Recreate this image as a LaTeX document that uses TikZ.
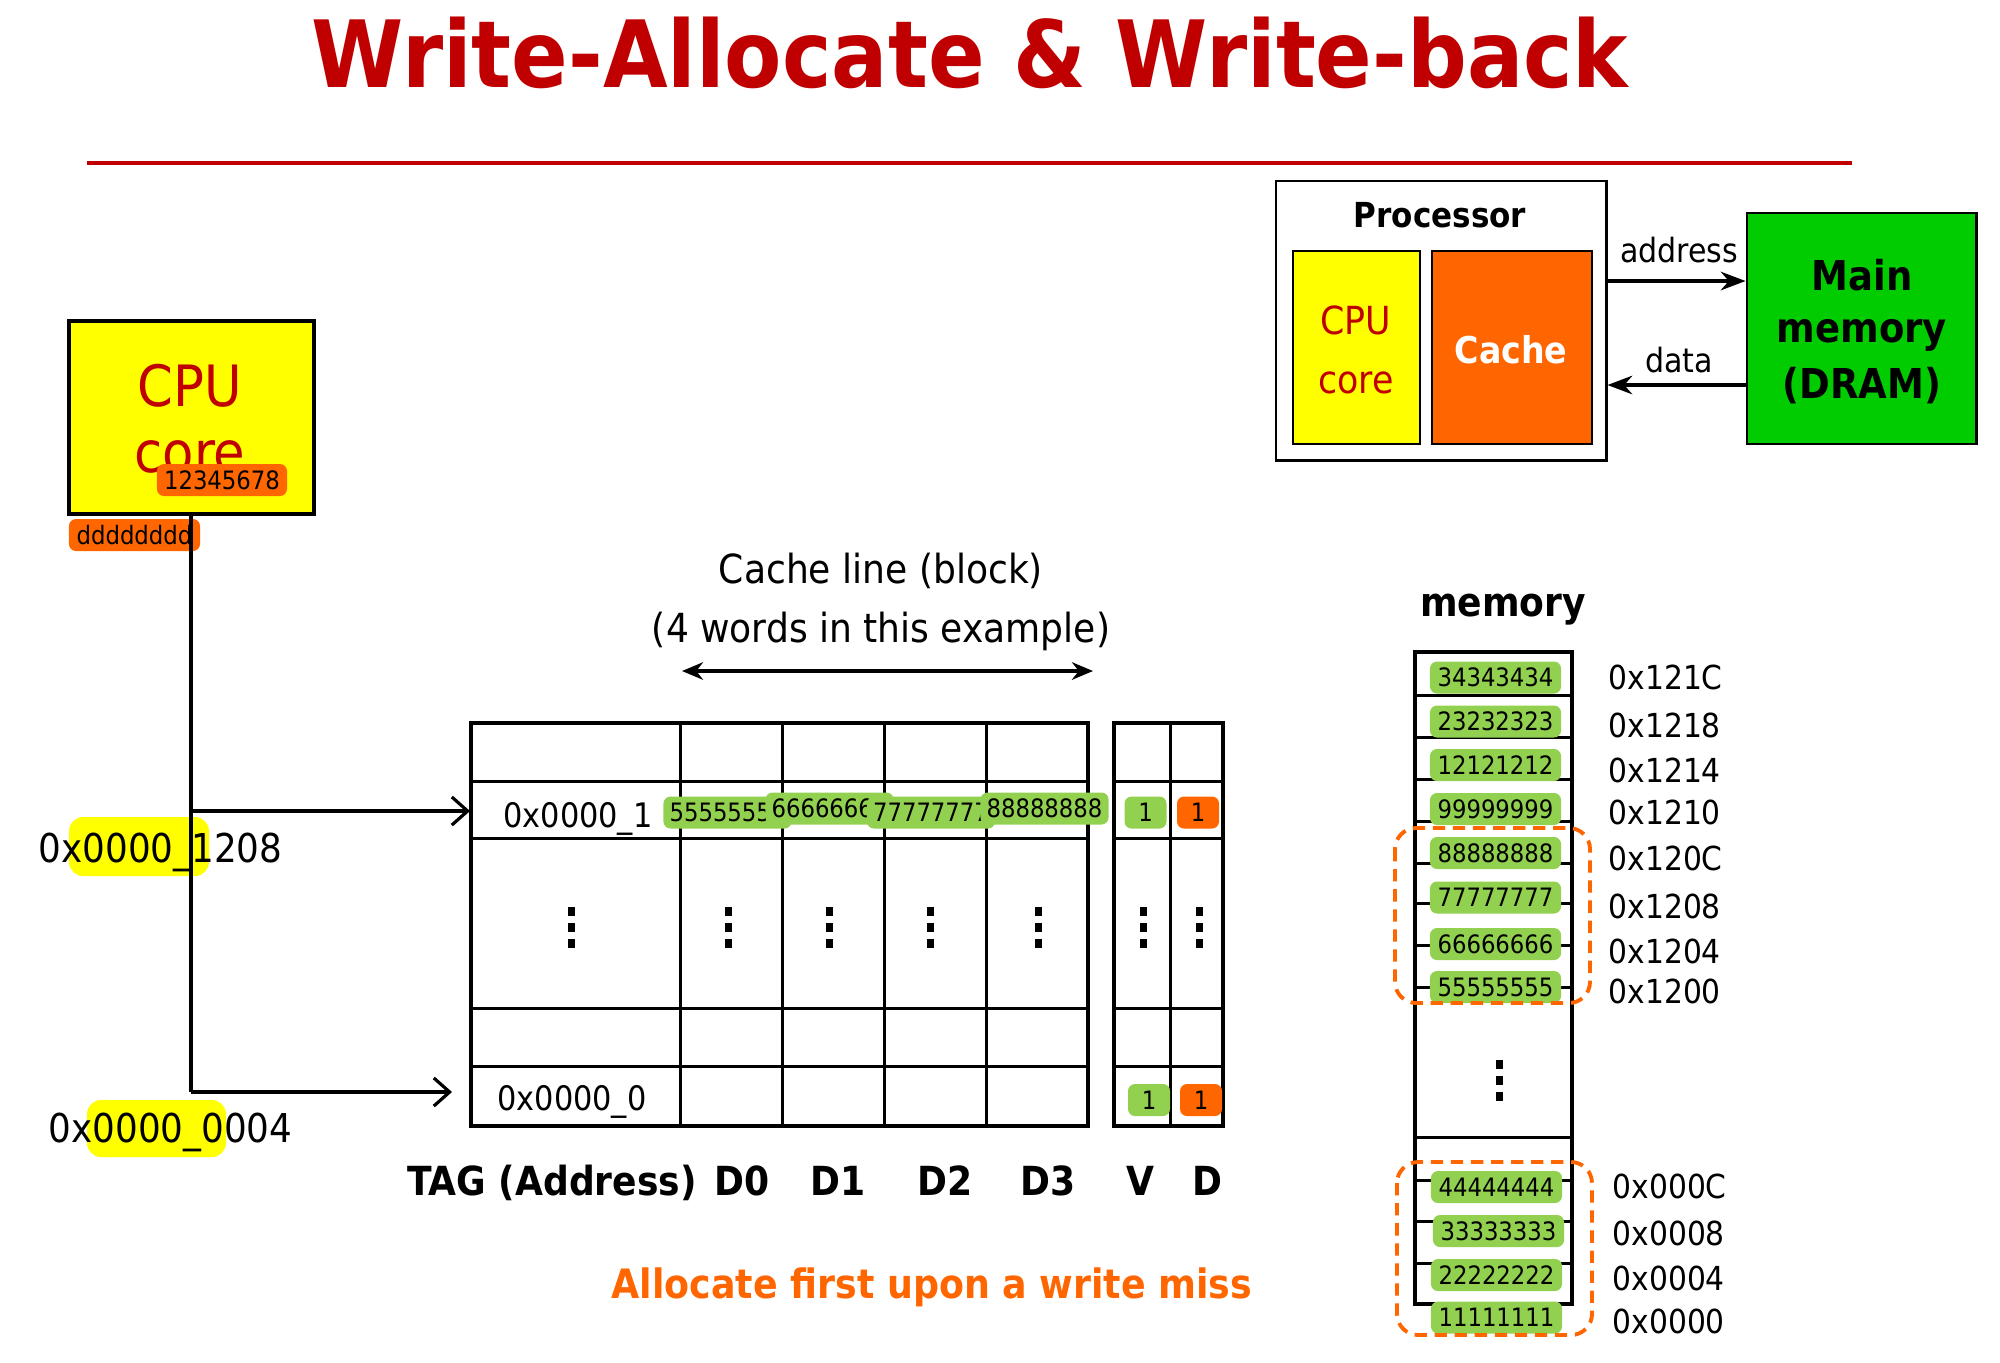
\documentclass[tikz,border=0pt]{standalone}
\usepackage{fontspec}
\setmainfont{DejaVu Sans Condensed}
\usepackage{tikz}
\usetikzlibrary{arrows.meta,positioning}
\definecolor{titlered}{RGB}{192,0,0}
\definecolor{cpuyellow}{RGB}{255,255,0}
\definecolor{cacheorange}{RGB}{255,102,0}
\definecolor{wordgreen}{RGB}{146,208,80}
\definecolor{dramgreen}{RGB}{0,204,0}
\newcommand{\setsize}[2]{\fontsize{#1}{#2}\selectfont}
% three small squares as vertical dots
\newcommand{\vdotsq}[2]{\foreach \k in {0,1,2} {\fill ({#1-3.5},{#2-4.5+16*\k}) rectangle ++(7,9);}}
\tikzset{
  cell/.style={draw, line width=0.85pt},
  wordbox/.style={fill=wordgreen, rounded corners=2pt, minimum width=1.28cm, minimum height=0.32cm, inner sep=0pt, font=\setsize{7.2}{8}},
  bitbox/.style={wordbox, minimum width=0.42cm},
  hilite/.style={fill=cpuyellow, rounded corners=4pt},
  hdr/.style={font=\bfseries\setsize{11.4}{13}, anchor=base, inner sep=0pt},
  txt/.style={font=\setsize{11.4}{13}, anchor=base, inner sep=0pt},
  addr/.style={font=\setsize{9.4}{11}, anchor=base west, inner sep=0pt},
  tagtxt/.style={font=\setsize{9.6}{11}, anchor=base, inner sep=0pt},
  missbox/.style={draw=cacheorange, line width=1.1pt, rounded corners=6pt, dash pattern=on 3.5pt off 2.2pt},
  wire/.style={line width=0.9pt},
  barb/.style={wire, -{Straight Barb[length=4.5pt,width=8pt]}},
}
\begin{document}
\begin{tikzpicture}[x=0.01cm, y=-0.01cm, >=Stealth]
    \useasboundingbox (0,0) rectangle (2000,1362);

    % Title
    \node[anchor=base, inner sep=0pt, text=titlered, font=\bfseries\setsize{26.4}{30}] (title) at (970,87) {Write-Allocate \& Write-back};
    \draw[titlered, line width=1.3pt] (87,163) -- (1852,163);

    % Processor / main memory overview
    \node[draw, line width=0.8pt, minimum width=3.30cm, minimum height=2.79cm] (proc) at (1441,320.5) {};
    \node[hdr, font=\bfseries\setsize{9.8}{12}] (proclabel) at (1440,227) {Processor};
    \node[draw, line width=0.8pt, fill=cpuyellow, minimum width=1.27cm, minimum height=1.93cm] (core) at (1356.5,347.5) {};
    \node[anchor=base, inner sep=0pt, text=titlered, font=\setsize{11}{13}] (coreA) at (1356,334) {CPU};
    \node[anchor=base, inner sep=0pt, text=titlered, font=\setsize{11}{13}] (coreB) at (1356,393) {core};
    \node[draw, line width=0.8pt, fill=cacheorange, minimum width=1.60cm, minimum height=1.93cm] (cache) at (1512,347.5) {};
    \node[hdr, text=white, font=\bfseries\setsize{10.5}{12}] (cachelabel) at (1511,363) {Cache};
    \node[draw, line width=0.8pt, fill=dramgreen, minimum width=2.29cm, minimum height=2.31cm] (dram) at (1861.5,328.5) {};
    \node[hdr, font=\bfseries\setsize{11.7}{14}] (dramA) at (1862,290) {Main};
    \node[hdr, font=\bfseries\setsize{11.7}{14}] (dramB) at (1862,342) {memory};
    \node[hdr, font=\bfseries\setsize{11.7}{14}] (dramC) at (1862,398) {(DRAM)};
    \coordinate (addrrow) at (0,281);
    \coordinate (datarow) at (0,385);
    \draw[wire, ->] (proc.east |- addrrow) -- (dram.west |- addrrow);
    \draw[wire, ->] (dram.west |- datarow) -- (proc.east |- datarow);
    \node[txt, font=\setsize{9.5}{11}] (addrlabel) at (1679,262) {address};
    \node[txt, font=\setsize{9.5}{11}] (datalabel) at (1679,372) {data};

    % CPU core with its registers
    \node[draw, line width=0.9pt, fill=cpuyellow, minimum width=2.45cm, minimum height=1.93cm] (cpu) at (191.5,417.5) {};
    \node[anchor=base, inner sep=0pt, text=titlered, font=\setsize{16.2}{19}] (cpuA) at (190,406) {CPU};
    \node[anchor=base, inner sep=0pt, text=titlered, font=\setsize{16.2}{19}] (cpuB) at (190,472) {core};
    \node[wordbox, fill=cacheorange, minimum width=1.30cm] (wreg) at (222,480) {12345678};
    \node[wordbox, fill=cacheorange, minimum width=1.31cm] (dreg) at (134.5,535) {dddddddd};

    % Addresses
    \fill[hilite] (69,817) rectangle (209,876);
    \node[anchor=base west, inner sep=0pt, font=\setsize{11.3}{13}] (addrA) at (38,862) {0x0000\_1208};
    \fill[hilite] (87,1100) rectangle (226,1157);
    \node[anchor=base west, inner sep=0pt, font=\setsize{11.3}{13}] (addrB) at (48,1142) {0x0000\_0004};

    % Cache table
    \foreach \y in {781,838,1008,1066}
        \draw[cell] (471,\y) -- (1088,\y);
    \foreach \x in {680,782,884,986}
        \draw[cell] (\x,723) -- (\x,1126);
    \draw[line width=1.3pt] (471,723) rectangle (1088,1126);
    \foreach \y in {781,838,1008,1066}
        \draw[cell] (1114,\y) -- (1223,\y);
    \draw[cell] (1170,723) -- (1170,1126);
    \draw[line width=1pt] (1114,723) rectangle (1223,1126);

    \node[tagtxt] (tag1) at (578,827) {0x0000\_1};
    \node[tagtxt] (tag0) at (572,1110) {0x0000\_0};

    \node[wordbox] (w0) at (727.5,812.5) {55555555};
    \node[wordbox] (w1) at (829.5,808.5) {66666666};
    \node[wordbox] (w2) at (931,812.5) {77777777};
    \node[wordbox] (w3) at (1044.5,808.5) {88888888};
    \node[bitbox] (v1) at (1145.5,812.5) {1};
    \node[bitbox, fill=cacheorange] (d1) at (1198,812.5) {1};
    \node[bitbox] (v0) at (1149,1100) {1};
    \node[bitbox, fill=cacheorange] (d0) at (1201,1100) {1};

    \foreach \x in {571,728,829,930,1038,1143,1199}
        {\vdotsq{\x}{911}}

    \node[hdr] (hTag) at (552,1195) {TAG (Address)};
    \node[hdr] (hD0) at (742,1195) {D0};
    \node[hdr] (hD1) at (838,1195) {D1};
    \node[hdr] (hD2) at (945,1195) {D2};
    \node[hdr] (hD3) at (1048,1195) {D3};
    \node[hdr] (hV) at (1140,1195) {V};
    \node[hdr] (hD) at (1207,1195) {D};

    % Cache line width
    \node[txt] (lineA) at (881,583) {Cache line (block)};
    \node[txt] (lineB) at (881,642) {(4 words in this example)};
    \coordinate (lineL) at (682,671);
    \coordinate (lineR) at (1093,671);
    \draw[wire, {Stealth[length=6pt,width=5pt]}-{Stealth[length=6pt,width=5pt]}] (lineL) -- (lineR);

    % Address wires from the CPU
    \coordinate (bend1) at (191,811);
    \coordinate (bend0) at (191,1092);
    \coordinate (tip1) at (470,811);
    \coordinate (tip0) at (452,1092);
    \draw[wire] (cpu.south -| bend1) -- (bend0);
    \draw[barb] (bend1) -- (tip1);
    \draw[barb] (bend0) -- (tip0);

    \node[anchor=base, inner sep=0pt, text=cacheorange, font=\bfseries\setsize{11.5}{14}] (note) at (932,1298) {Allocate first upon a write miss};

    % Memory
    \node[hdr] (memlabel) at (1503,616) {memory};
    \draw[line width=1.2pt] (1415,652) rectangle (1572,1304);
    \foreach \y in {695,737,779,821,863,903,945,987,1137,1180,1221,1263}
        \draw[cell] (1415,\y) -- (1572,\y);
    \foreach \val/\yy/\ad/\ab [count=\i] in {34343434/677.5/0x121C/689, 23232323/721.5/0x1218/737, 12121212/765/0x1214/782, 99999999/809/0x1210/824, 88888888/853/0x120C/870, 77777777/897.5/0x1208/918, 66666666/944/0x1204/963, 55555555/987/0x1200/1003}
    {
        \node[wordbox, minimum width=1.31cm] (m\i) at (1495.5,\yy) {\val};
        \node[addr] (a\i) at (1608,\ab) {\ad};
    }
    \foreach \val/\xx/\yy/\ad/\ab [count=\i] in {44444444/1496.5/1187/0x000C/1198, 33333333/1498.5/1231/0x0008/1245, 22222222/1496.5/1275/0x0004/1290, 11111111/1496.5/1317.5/0x0000/1333}
    {
        \node[wordbox, minimum width=1.31cm] (n\i) at (\xx,\yy) {\val};
        \node[addr] (b\i) at (1612,\ab) {\ad};
    }
    \vdotsq{1499}{1064}
    \draw[missbox] (1395,828) rectangle (1590,1003);
    \draw[missbox] (1397,1162) rectangle (1592,1335);
\end{tikzpicture}
\end{document}
